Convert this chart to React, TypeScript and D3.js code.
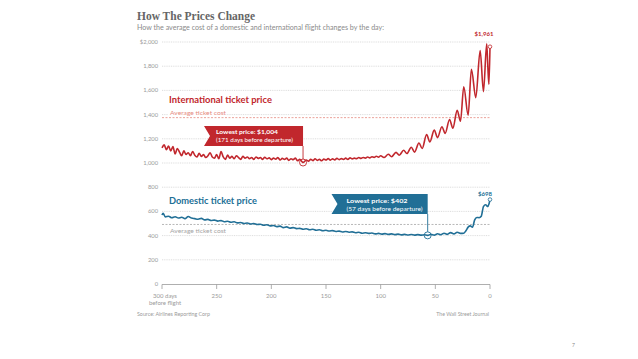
import React from 'react';
import * as d3 from 'd3';

const yTicks = [0, 200, 400, 600, 800, 1000, 1200, 1400, 1600, 1800, 2000];
const yTickLabels = ['0', '200', '400', '600', '800', '1,000', '1,200', '1,400', '1,600', '1,800', '$2,000'];
const xTicks = [300, 250, 200, 150, 100, 50, 0];
const xTickLabels = ['300 days', '250', '200', '150', '100', '50', '0'];

const intlDays = [
  300, 298, 296, 294, 292, 290, 288, 286, 284, 282, 280, 278, 276, 274, 272, 270, 268, 266, 264, 262,
  260, 258, 256, 254, 252, 250, 248, 246, 244, 242, 240, 238, 236, 234, 232, 230, 228, 226, 224, 222,
  220, 218, 216, 214, 212, 210, 208, 206, 204, 202, 200, 198, 196, 194, 192, 190, 188, 186, 184, 182,
  180, 178, 176, 174, 172, 171, 168, 166, 164, 162, 160, 158, 156, 154, 152, 150, 148, 146, 144, 142,
  140, 138, 136, 134, 132, 130, 128, 126, 124, 122, 120, 118, 116, 114, 112, 110, 108, 106, 104, 102,
  100, 97, 93, 90, 86, 83, 79, 76, 72, 69, 65, 62, 58, 55, 51, 48, 44, 41, 37, 34,
  30, 27, 24, 20, 17, 13, 9, 6, 3, 2, 1, 0,
];
const intlPrices = [
  1125, 1150, 1110, 1140, 1100, 1135, 1075, 1120, 1090, 1060, 1100, 1070, 1085, 1060, 1095, 1065, 1050, 1080, 1055, 1070,
  1045, 1060, 1085, 1050, 1040, 1070, 1035, 1095, 1050, 1030, 1065, 1040, 1055, 1035, 1060, 1045, 1030, 1055, 1040, 1050,
  1035, 1045, 1030, 1050, 1038, 1045, 1030, 1048, 1035, 1042, 1028, 1040, 1032, 1045, 1025, 1038, 1030, 1040, 1022, 1035,
  1028, 1040, 1018, 1030, 1012, 1004, 1025, 1015, 1030, 1020, 1035, 1022, 1030, 1018, 1032, 1025, 1036, 1024, 1034, 1026,
  1038, 1028, 1036, 1030, 1040, 1030, 1042, 1034, 1040, 1036, 1045, 1038, 1046, 1040, 1050, 1042, 1052, 1046, 1056, 1048,
  1060, 1045, 1072, 1052, 1088, 1064, 1105, 1078, 1130, 1090, 1165, 1120, 1235, 1175, 1272, 1210, 1300, 1245, 1360, 1288,
  1435, 1345, 1630, 1395, 1775, 1540, 1930, 1590, 1985, 1800, 1650, 1961,
];

const domDays = [
  300, 299, 297, 294, 291, 288, 285, 282, 279, 276, 273, 270, 267, 264, 261, 258, 255, 252, 249, 246,
  243, 240, 237, 234, 231, 228, 225, 222, 219, 216, 213, 210, 207, 204, 201, 198, 195, 192, 189, 186,
  183, 180, 177, 174, 171, 168, 165, 162, 159, 156, 153, 150, 147, 144, 141, 138, 135, 132, 129, 126,
  123, 120, 117, 114, 111, 108, 105, 102, 99, 96, 93, 90, 87, 84, 81, 78, 75, 72, 69, 66,
  63, 60, 57, 54, 51, 48, 45, 42, 39, 36, 33, 30, 27, 24, 22, 20, 18, 16, 14, 12,
  10, 8, 6, 4, 2, 1, 0,
];
const domPrices = [
  570, 585, 555, 560, 548, 556, 545, 552, 540, 558, 545, 540, 535, 542, 530, 534, 525, 528, 520, 524,
  515, 518, 510, 514, 505, 508, 500, 504, 496, 500, 492, 494, 486, 490, 480, 484, 474, 478, 466, 472,
  462, 466, 458, 460, 452, 456, 448, 452, 444, 448, 440, 444, 438, 441, 434, 437, 430, 434, 428, 431,
  424, 428, 420, 424, 418, 421, 414, 418, 412, 416, 410, 414, 408, 412, 406, 410, 405, 409, 404, 408,
  404, 407, 402, 410, 404, 415, 407, 420, 410, 425, 414, 428, 418, 420, 440, 470, 480, 470, 530, 550,
  548, 560, 640, 655, 640, 660, 698,
];

const intlAverage = 1375;
const domAverage = 492;
const intlLowDay = 171;
const intlLowPrice = 1004;
const domLowDay = 57;
const domLowPrice = 402;

const RED = '#c1272d';
const BLUE = '#216f96';
const SANS = 'Lato, "Open Sans", sans-serif';

export default function App() {
  const x = d3.scaleLinear().domain([300, 0]).range([162, 490]);
  const y = d3.scaleLinear().domain([0, 2000]).range([284, 42]);

  const line = d3
    .line<[number, number]>()
    .x((d) => x(d[0]))
    .y((d) => y(d[1]))
    .curve(d3.curveMonotoneX);

  const intl: [number, number][] = intlDays.map((d, i) => [d, intlPrices[i]]);
  const dom: [number, number][] = domDays.map((d, i) => [d, domPrices[i]]);
  const intlLast = intl[intl.length - 1];
  const domLast = dom[dom.length - 1];

  const flag = (x0: number, x1: number, y0: number, y1: number) =>
    `M${x0},${y0}L${x1},${y0}L${x1},${y1}L${x0},${y1}L${x0 + 6},${(y0 + y1) / 2}Z`;

  const rx = x(intlLowDay);
  const bx = x(domLowDay);

  return (
    <svg
      width={638}
      height={359}
      style={{ position: 'absolute', left: 0, top: 0, background: '#fff' }}
      fontFamily={SANS}
    >
      <rect width={638} height={359} fill="#fff" />
      <text x={137} y={20} fontFamily='"Liberation Serif", serif' fontWeight="bold" fontSize={12.5} fill="#666" textLength={118} lengthAdjust="spacingAndGlyphs">
        How The Prices Change
      </text>
      <text x={137} y={30} fontSize={6.6} fill="#8a8a8a" textLength={247} lengthAdjust="spacingAndGlyphs">
        How the average cost of a domestic and international flight changes by the day:
      </text>

      {yTicks.map((t, i) => (
        <g key={t}>
          {t > 0 && (
            <line x1={162} x2={490} y1={y(t)} y2={y(t)} stroke="#cfcfcf" strokeWidth={0.7} strokeDasharray="1,0.8" />
          )}
          <text x={158} y={y(t) + 2} textAnchor="end" fontSize={5.8} fill="#9a9a9a">
            {yTickLabels[i]}
          </text>
        </g>
      ))}

      {/* x axis */}
      <line x1={162} x2={490} y1={284.5} y2={284.5} stroke="#9a9a9a" strokeWidth={0.8} />
      {xTicks.map((t, i) => (
        <g key={t}>
          <line x1={x(t)} x2={x(t)} y1={284.5} y2={289} stroke="#9a9a9a" strokeWidth={0.8} />
          <text x={x(t) + (t === 300 ? 3 : 0)} y={298} textAnchor="middle" fontSize={6} fill="#9a9a9a">
            {xTickLabels[i]}
          </text>
        </g>
      ))}
      <text x={x(300) + 3} y={305} textAnchor="middle" fontSize={6} fill="#9a9a9a">
        before flight
      </text>

      {/* averages */}
      <line x1={162} x2={490} y1={y(intlAverage)} y2={y(intlAverage)} stroke="#e58a80" strokeWidth={0.8} strokeDasharray="2,1.5" />
      <line x1={162} x2={490} y1={y(domAverage)} y2={y(domAverage)} stroke="#a5a5a5" strokeWidth={0.8} strokeDasharray="2,1.5" />

      {/* series labels */}
      <rect x={168} y={109} width={58} height={7} fill="#fff" />
      <text x={169} y={103} fontWeight="bold" fontSize={9} fill={RED} textLength={103} lengthAdjust="spacingAndGlyphs">
        International ticket price
      </text>
      <text x={170} y={115} fontSize={5.8} fill="#e58a80" textLength={56} lengthAdjust="spacingAndGlyphs">
        Average ticket cost
      </text>
      <text x={169} y={204} fontWeight="bold" fontSize={9} fill={BLUE} textLength={88} lengthAdjust="spacingAndGlyphs">
        Domestic ticket price
      </text>
      <text x={170} y={233} fontSize={5.8} fill="#a5a5a5" textLength={56} lengthAdjust="spacingAndGlyphs">
        Average ticket cost
      </text>

      {/* lines */}
      <path d={line(intl) || ''} fill="none" stroke={RED} strokeWidth={1.6} strokeLinejoin="round" />
      <path d={line(dom) || ''} fill="none" stroke={BLUE} strokeWidth={1.6} strokeLinejoin="round" />

      {/* end markers */}
      <circle cx={x(intlLast[0])} cy={y(intlLast[1])} r={1.8} fill="#fff" stroke={RED} strokeWidth={0.8} />
      <circle cx={x(domLast[0])} cy={y(domLast[1])} r={1.8} fill="#fff" stroke={BLUE} strokeWidth={0.8} />
      <text x={484} y={36} textAnchor="middle" fontWeight="bold" fontSize={6} fill={RED}>
        $1,961
      </text>
      <text x={485} y={196} textAnchor="middle" fontWeight="bold" fontSize={6} fill={BLUE}>
        $698
      </text>

      {/* red callout */}
      <path d={flag(204, rx, 126, 146)} fill={RED} />
      <line x1={rx} x2={rx} y1={146} y2={y(intlLowPrice) - 3.5} stroke={RED} strokeWidth={0.9} />
      <circle cx={rx} cy={y(intlLowPrice)} r={3.5} fill="none" stroke={RED} strokeWidth={0.9} />
      <text x={216} y={133.5} fontWeight="bold" fontSize={6.4} fill="#fff" textLength={62} lengthAdjust="spacingAndGlyphs">
        Lowest price: $1,004
      </text>
      <text x={216} y={141.5} fontSize={6.2} fill="#fff" textLength={77} lengthAdjust="spacingAndGlyphs">
        (171 days before departure)
      </text>

      {/* blue callout */}
      <path d={flag(331.5, bx, 194, 214)} fill={BLUE} />
      <line x1={bx} x2={bx} y1={214} y2={y(domLowPrice) - 3.5} stroke={BLUE} strokeWidth={0.9} />
      <circle cx={bx} cy={y(domLowPrice)} r={3.5} fill="none" stroke={BLUE} strokeWidth={0.9} />
      <text x={346.5} y={202.5} fontWeight="bold" fontSize={6.4} fill="#fff" textLength={61} lengthAdjust="spacingAndGlyphs">
        Lowest price: $402
      </text>
      <text x={346.5} y={210.5} fontSize={6.2} fill="#fff" textLength={76} lengthAdjust="spacingAndGlyphs">
        (57 days before departure)
      </text>

      {/* footer */}
      <text x={137} y={316} fontSize={5.2} fill="#9a9a9a" textLength={73} lengthAdjust="spacingAndGlyphs">
        Source: Airlines Reporting Corp
      </text>
      <text x={489} y={316} textAnchor="end" fontSize={5.2} fill="#9a9a9a">
        The Wall Street Journal
      </text>
      <text x={572} y={347} fontSize={5} fill="#888">
        7
      </text>
    </svg>
  );
}
